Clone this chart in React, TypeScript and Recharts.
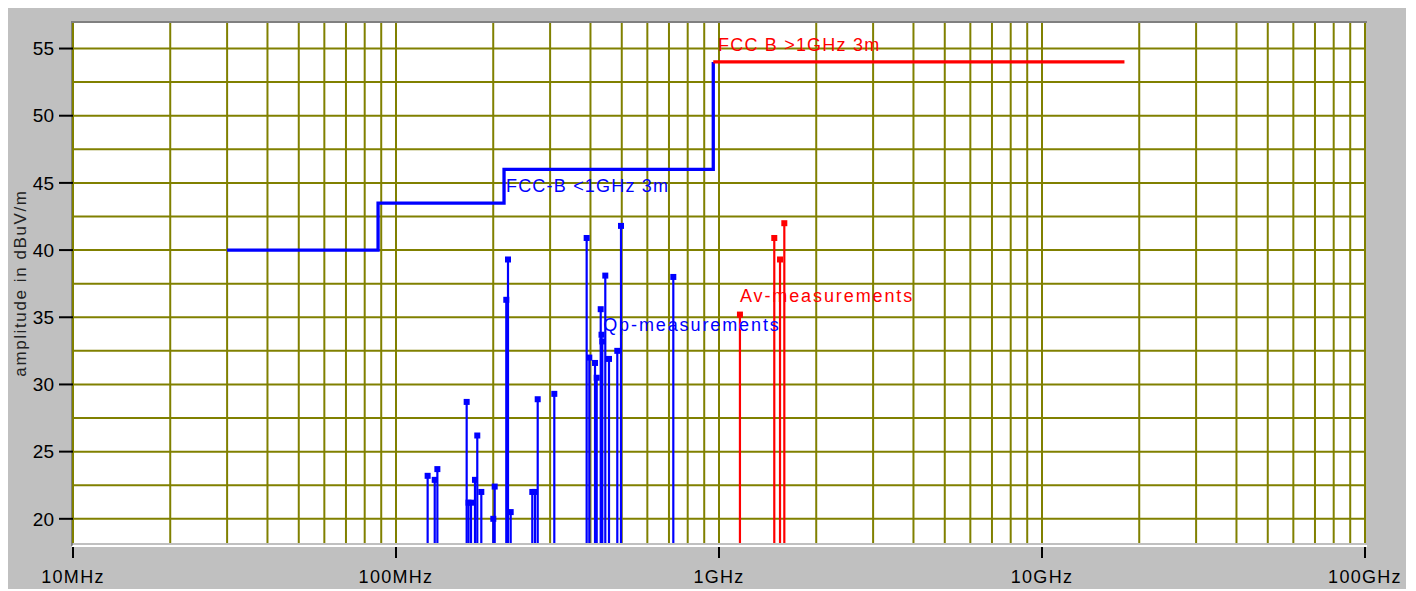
import React from 'react';
import {
  ComposedChart,
  Line,
  Scatter,
  XAxis,
  YAxis,
  CartesianGrid,
  ReferenceLine,
  ReferenceDot,
} from 'recharts';

// Frequencies in MHz, levels in dBuV/m

// FCC class B limit below 1 GHz (step line)
const limitLowFreq = [30, 88, 216, 960];
const limitLowLevel = [40, 43.5, 46, 54];

// FCC class B limit above 1 GHz
const limitHighFreq = [960, 18000];
const limitHighLevel = [54, 54];

// quasi-peak measurements
const qpFreq = [
  125.3, 131.8, 134.3, 165.5, 167.7, 170.7, 175.6, 178.5, 183.7, 200.1,
  202.1, 219.5, 222.2, 226.5, 264.2, 269.4, 274.6, 309.1, 389.3, 396.7,
  413.2, 418.2, 430.3, 432.8, 435.2, 444.6, 456.5, 484.3, 497.3, 722.0,
];
const qpLevel = [
  23.2, 22.9, 23.7, 28.7, 21.2, 21.2, 22.9, 26.2, 22.0, 20.0,
  22.4, 36.3, 39.3, 20.5, 22.0, 22.0, 28.9, 29.3, 40.9, 32.0,
  31.6, 30.5, 35.6, 33.7, 33.2, 38.1, 31.9, 32.5, 41.8, 38.0,
];

// average measurements
const avFreq = [1161, 1483, 1545, 1593];
const avLevel = [35.2, 40.9, 39.3, 42.0];

// axes
const xTicks = [10, 100, 1000, 10000, 100000];
const xTickLabels = ['10MHz', '100MHz', '1GHz', '10GHz', '100GHz'];
const yTicks = [20, 25, 30, 35, 40, 45, 50, 55];
const yMin = 18.2;
const yMax = 56.9;

// chart annotations (anchored in data units)
const noteText = ['FCC-B <1GHz 3m', 'FCC B >1GHz 3m', 'Qp-measurements', 'Av-measurements'];
const noteFreq = [219, 993, 438, 1161];
const noteLevel = [44.75, 55.26, 34.45, 36.6];
const noteColor = ['#0000ff', '#ff0000', '#0000ff', '#ff0000'];
const noteSpacing = [1.2, 1.2, 1.9, 1.9];

const BLUE = '#0000ff';
const RED = '#ff0000';
const GRID = '#808000';
const FONT = '"Liberation Sans", Arial, sans-serif';

const zip = (xs: number[], ys: number[]) => xs.map((x, i) => ({ x, y: ys[i] }));

const limitLow = zip(limitLowFreq, limitLowLevel);
const limitHigh = zip(limitHighFreq, limitHighLevel);
const qp = zip(qpFreq, qpLevel);
const av = zip(avFreq, avLevel);

// grid: every 1..9 of each decade, every 2.5 dB
const vGrid: number[] = [];
[10, 100, 1000, 10000].forEach((d) => {
  for (let k = 1; k < 10; k++) vGrid.push(d * k);
});
vGrid.push(100000);
const hGrid: number[] = [];
for (let v = 20; v <= 55; v += 2.5) hGrid.push(v);

const XTick = (props: any) => {
  const { x, y, index } = props;
  return (
    <g>
      <line x1={x} x2={x} y1={y + 4} y2={y + 15} stroke="#000" strokeWidth={2} />
      <text
        x={x}
        y={y + 40}
        textAnchor="middle"
        fill="#000"
        fontSize={18}
        fontFamily={FONT}
        letterSpacing={1.3}
      >
        {xTickLabels[index]}
      </text>
    </g>
  );
};

const square = (color: string) => (p: any) => (
  <rect x={p.cx - 3} y={p.cy - 3} width={6} height={6} fill={color} />
);

export default function App() {
  return (
    <div style={{ marginLeft: -3, width: 1404, height: 581, borderRight: '2px solid #8a8a8a', background: '#fff' }}>
      <div style={{ position: 'relative', width: 1401, height: 581, background: '#c0c0c0' }}>
        {/* sunken plot frame */}
        <div
          style={{
            position: 'absolute',
            left: 66,
            top: 13,
            width: 1294,
            height: 522,
            borderTop: '2px solid #808080',
            borderLeft: '2px solid #808080',
            borderBottom: '2px solid #ffffff',
          }}
        />
        <div style={{ position: 'absolute', left: 0, top: 0 }}>
          <ComposedChart
            width={1401}
            height={581}
            margin={{ top: 15, right: 41, bottom: 6, left: 8 }}
          >
            <CartesianGrid
              horizontalValues={hGrid}
              verticalValues={vGrid}
              stroke={GRID}
              strokeWidth={2}
              fill="#ffffff"
              fillOpacity={1}
            />
            <XAxis
              type="number"
              dataKey="x"
              scale="log"
              domain={[10, 100000]}
              ticks={xTicks}
              allowDataOverflow
              axisLine={false}
              tickLine={false}
              tickSize={0}
              tickMargin={0}
              height={40}
              tick={<XTick />}
              interval={0}
            />
            <YAxis
              type="number"
              dataKey="y"
              domain={[yMin, yMax]}
              ticks={yTicks}
              allowDataOverflow
              width={60}
              axisLine={false}
              tickLine={{ stroke: '#000', strokeWidth: 2 }}
              tickSize={14}
              tickMargin={5}
              interval={0}
              tick={{ fill: '#000', fontSize: 19, fontFamily: FONT }}
              label={(p: any) => {
                const vb = p.viewBox;
                const cx = vb.x + 7;
                const cy = vb.y + vb.height / 2;
                return (
                  <text
                    x={cx}
                    y={cy}
                    transform={`rotate(-90 ${cx} ${cy})`}
                    textAnchor="middle"
                    dominantBaseline="central"
                    fill="#222"
                    fontSize={17}
                    fontFamily={FONT}
                    letterSpacing={1.6}
                  >
                    amplitude in dBuV/m
                  </text>
                );
              }}
            />

            {qp.map((d, i) => (
              <ReferenceLine
                key={`qp-${i}`}
                segment={[{ x: d.x, y: yMin }, { x: d.x, y: d.y }]}
                stroke={BLUE}
                strokeWidth={2.2}
                ifOverflow="visible"
              />
            ))}
            {av.map((d, i) => (
              <ReferenceLine
                key={`av-${i}`}
                segment={[{ x: d.x, y: yMin }, { x: d.x, y: d.y }]}
                stroke={RED}
                strokeWidth={2.2}
                ifOverflow="visible"
              />
            ))}

            <Line
              data={limitLow}
              dataKey="y"
              type="stepAfter"
              stroke={BLUE}
              strokeWidth={3.3}
              dot={false}
              activeDot={false}
              isAnimationActive={false}
            />
            <Line
              data={limitHigh}
              dataKey="y"
              type="linear"
              stroke={RED}
              strokeWidth={3.3}
              dot={false}
              activeDot={false}
              isAnimationActive={false}
            />
            <Scatter data={qp} dataKey="y" shape={square(BLUE)} isAnimationActive={false} />
            <Scatter data={av} dataKey="y" shape={square(RED)} isAnimationActive={false} />

            {noteText.map((t, i) => (
              <ReferenceDot
                key={`note-${i}`}
                x={noteFreq[i]}
                y={noteLevel[i]}
                ifOverflow="visible"
                shape={(p: any) => (
                  <text
                    x={p.cx}
                    y={p.cy}
                    dominantBaseline="central"
                    fill={noteColor[i]}
                    fontSize={18}
                    fontFamily={FONT}
                    letterSpacing={noteSpacing[i]}
                  >
                    {t}
                  </text>
                )}
              />
            ))}
          </ComposedChart>
        </div>
      </div>
    </div>
  );
}
